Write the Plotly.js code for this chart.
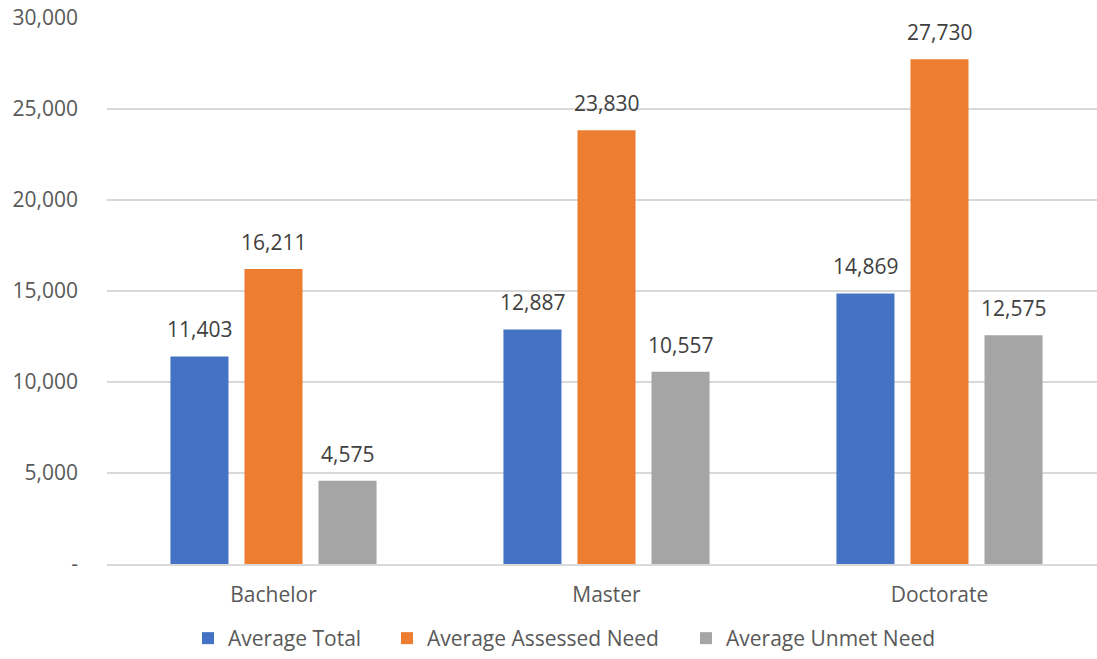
<!DOCTYPE html>
<html>
<head>
<meta charset="utf-8">
<script src="https://cdn.plot.ly/plotly-3.0.1.min.js"></script>
<style>html,body{margin:0;padding:0;background:#fff;}#chart{width:1097px;height:659px;}</style>
</head>
<body>
<div id="chart"></div>
<script>
const categories = ["Bachelor", "Master", "Doctorate"];
const seriesNames = ["Average Total", "Average Assessed Need", "Average Unmet Need"];
const averageTotal = [11403, 12887, 14869];
const averageAssessed = [16211, 23830, 27730];
const averageUnmet = [4575, 10557, 12575];
const tickVals = [0, 5000, 10000, 15000, 20000, 25000, 30000];
const tickText = ["-", "5,000", "10,000", "15,000", "20,000", "25,000", "30,000"];

const colors = ["#4472C4", "#ED7D31", "#A5A5A5"];
const allSeries = [averageTotal, averageAssessed, averageUnmet];
const fontFam = "'Open Sans', 'Noto Sans', sans-serif";
const FS = 21;
const fmt = v => v.toLocaleString("en-US");
const legendIds = ["legend", "legend2", "legend3"];
const legendLeft = [208, 407, 706];

const traces = allSeries.map((vals, i) => ({
  type: "bar",
  name: seriesNames[i],
  x: categories,
  y: vals,
  marker: {color: colors[i]},
  legend: legendIds[i],
  hoverinfo: "none"
}));

const slot = 74;
const annotations = [];
allSeries.forEach((vals, i) => {
  vals.forEach((v, j) => {
    annotations.push({
      x: categories[j], y: v, xref: "x", yref: "y",
      text: fmt(v), showarrow: false,
      xshift: (i - 1) * slot, yanchor: "bottom", yshift: 11,
      font: {family: fontFam, size: FS, color: "#404040"}
    });
  });
});

const layout = {
  width: 1097, height: 659,
  margin: {l: 107, r: 0, t: 18, b: 95},
  paper_bgcolor: "#fff", plot_bgcolor: "#fff",
  barmode: "group", bargap: 0.333, bargroupgap: 0.216,
  font: {family: fontFam, size: FS, color: "#595959"},
  xaxis: {
    range: [-0.5, 2.473],
    showgrid: false, showline: true, linecolor: "#D9D9D9", linewidth: 1.5,
    ticks: "", ticklabelstandoff: 11, automargin: false,
    tickfont: {family: fontFam, size: FS, color: "#595959"}
  },
  yaxis: {
    range: [0, 30000], tickvals: tickVals, ticktext: tickText,
    showgrid: true, gridcolor: "#D9D9D9", gridwidth: 1.5,
    zeroline: false, showline: false, ticks: "", ticklabelstandoff: 28, automargin: false,
    tickfont: {family: fontFam, size: FS, color: "#595959"}
  },
  showlegend: true,
  annotations: annotations
};
legendIds.forEach((id, i) => {
  layout[id] = {
    orientation: "h", x: (legendLeft[i] - 20) / 1097, xanchor: "left", xref: "container",
    y: 0, yanchor: "bottom", yref: "container",
    font: {family: fontFam, size: FS, color: "#595959"},
    itemwidth: 30, bgcolor: "rgba(0,0,0,0)"
  };
});

Plotly.newPlot("chart", traces, layout, {displayModeBar: false, staticPlot: true});
</script>
</body>
</html>
